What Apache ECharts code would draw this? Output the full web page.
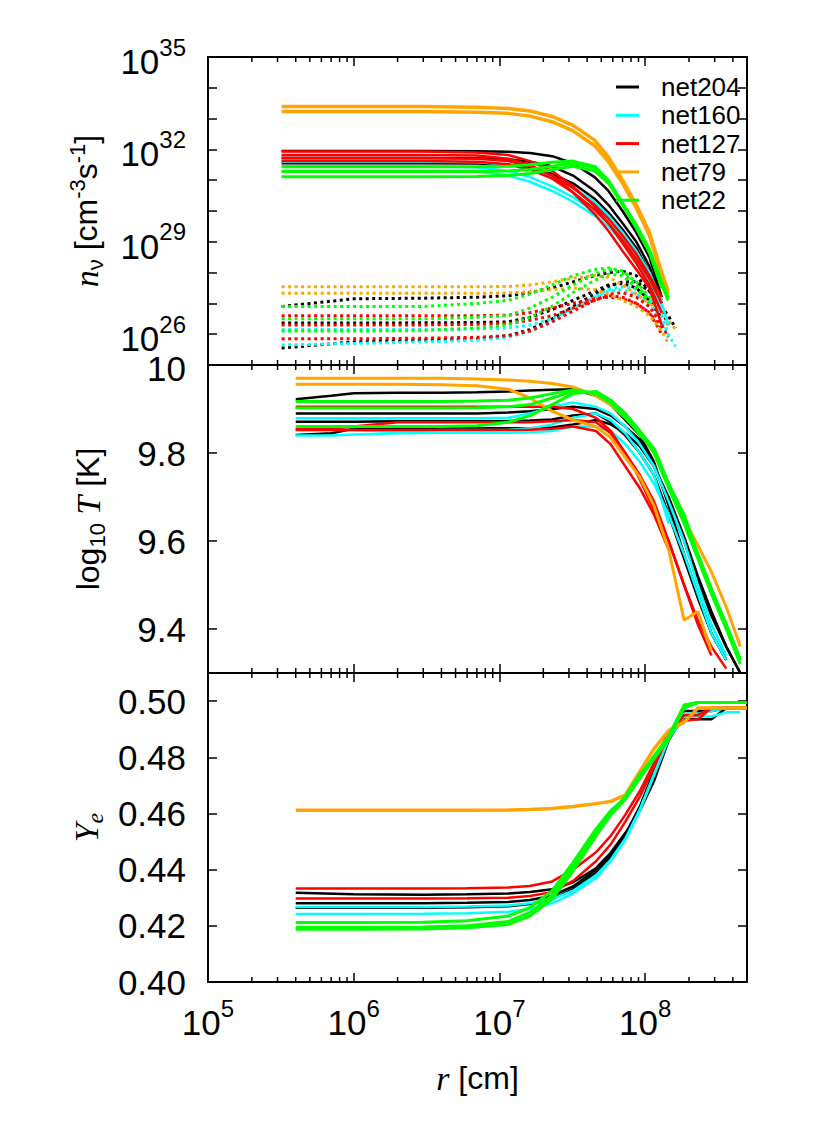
<!DOCTYPE html>
<html><head><meta charset="utf-8">
<script src="https://cdn.jsdelivr.net/npm/echarts@6/dist/echarts.min.js"></script>
<style>html,body{margin:0;padding:0;background:#fff}#c{width:830px;height:1142px}</style>
</head><body><div id="c"></div>
<script>
// ---------- radius grids (cm) ----------
const rTop = [3.2e5, 1e6, 3e6, 7e6, 1.15e7, 1.62e7, 2.3e7, 3.2e7, 4.5e7, 5.6e7, 7e7, 8.7e7, 1.07e8, 1.3e8, 1.44e8, 1.62e8];
const rT   = [4e5, 7e5, 1e6, 2e6, 4e6, 7e6, 1.15e7, 1.62e7, 2.3e7, 3.2e7, 4.6e7, 5.8e7, 7.3e7, 9.2e7, 1.15e8, 1.45e8, 1.85e8, 2.3e8, 2.85e8, 3.6e8, 4.5e8, 5e8];
const rYe  = [4e5, 1e6, 3e6, 6e6, 1.15e7, 1.62e7, 2.3e7, 3.2e7, 4.6e7, 5.8e7, 7.3e7, 9.2e7, 1.15e8, 1.45e8, 1.85e8, 2.3e8, 2.85e8, 3.6e8, 4.5e8, 5e8];

// ---------- top panel: log10 of n_nu [cm^-3 s^-1], solid curves ----------
const nuSolid_net204 = [
  [31.95,31.95,31.95,31.94,31.92,31.88,31.78,31.55,31.1,30.65,30.0,29.3,28.5,27.2,null,null],
  [31.72,31.72,31.72,31.71,31.68,31.6,31.45,31.15,30.65,30.2,29.6,29.0,28.2,27.1,null,null],
  [31.55,31.55,31.55,31.54,31.5,31.4,31.2,30.9,30.4,29.95,29.4,28.8,28.0,27.0,null,null]];
const nuSolid_net160 = [
  [31.6,31.6,31.6,31.58,31.5,31.35,31.1,30.75,30.3,29.85,29.3,28.7,28.0,27.1,null,null],
  [31.45,31.45,31.45,31.42,31.3,31.1,30.8,30.45,30.0,29.6,29.1,28.6,28.0,27.0,26.3,null],
  [31.3,31.3,31.3,31.28,31.15,30.95,30.65,30.3,29.85,29.5,29.0,28.4,27.7,26.8,null,null]];
const nuSolid_net127 = [
  [31.93,31.93,31.93,31.9,31.82,31.62,31.3,30.8,30.15,29.6,28.95,28.3,27.6,26.7,null,null],
  [31.82,31.82,31.82,31.8,31.7,31.5,31.15,30.6,29.9,29.35,28.7,28.1,27.5,26.3,null,null],
  [31.72,31.72,31.72,31.7,31.62,31.45,31.15,30.75,30.2,29.75,29.2,28.6,27.9,27.2,null,null],
  [31.62,31.62,31.62,31.6,31.52,31.35,31.05,30.6,30.05,29.6,29.05,28.45,27.8,27.0,null,null]];
const nuSolid_net79 = [
  [33.39,33.39,33.39,33.37,33.33,33.25,33.07,32.78,32.3,31.75,31.0,30.2,29.3,28.0,27.4,null],
  [33.23,33.23,33.23,33.21,33.17,33.08,32.9,32.6,32.12,31.6,30.9,30.1,29.2,27.9,27.3,null]];
const nuSolid_net22 = [
  [31.44,31.44,31.44,31.44,31.45,31.5,31.58,31.62,31.45,31.0,30.25,29.55,28.75,27.7,27.2,null],
  [31.28,31.28,31.28,31.28,31.3,31.35,31.45,31.55,31.4,30.95,30.25,29.5,28.7,27.6,27.1,null],
  [31.11,31.11,31.11,31.12,31.15,31.22,31.35,31.45,31.3,30.9,30.2,29.45,28.65,27.5,null,null]];

// ---------- top panel: log10 of n_nu, dotted curves ----------
const nuDot_net204 = [
  [26.9,27.15,27.17,27.2,27.25,27.35,27.5,27.7,27.9,28.0,28.05,27.9,27.4,26.8,26.3,null],
  [26.36,26.36,26.37,26.38,26.4,26.55,26.8,27.1,27.4,27.6,27.65,27.5,27.1,26.5,null,null],
  [25.55,25.75,25.8,25.85,25.95,26.15,26.5,26.9,27.3,27.55,27.7,27.7,27.4,26.9,26.6,26.2]];
const nuDot_net160 = [
  [26.15,26.15,26.15,26.17,26.2,26.3,26.5,26.85,27.2,27.4,27.45,27.3,27.0,26.4,25.9,null],
  [25.65,25.7,25.75,25.8,25.9,26.1,26.4,26.8,27.2,27.45,27.55,27.45,27.15,26.6,26.0,25.6]];
const nuDot_net127 = [
  [26.6,26.6,26.6,26.6,26.62,26.7,26.85,27.0,27.15,27.2,27.15,27.0,26.7,26.2,null,null],
  [26.3,26.3,26.3,26.32,26.35,26.45,26.6,26.85,27.1,27.25,27.2,27.0,26.7,26.0,null,null],
  [25.85,25.85,25.87,25.9,25.95,26.1,26.4,26.75,27.1,27.3,27.35,27.2,26.9,26.3,25.9,null]];
const nuDot_net79 = [
  [27.54,27.54,27.54,27.54,27.55,27.6,27.7,27.82,27.9,27.85,27.6,27.3,27.0,26.7,26.45,26.15],
  [27.33,27.33,27.33,27.33,27.34,27.38,27.45,27.5,27.45,27.3,27.1,26.9,26.6,26.1,25.7,null]];
const nuDot_net22 = [
  [26.9,26.9,26.9,27.0,27.1,27.3,27.6,27.9,28.1,28.15,28.05,27.7,27.2,26.8,null,null],
  [26.5,26.5,26.5,26.55,26.6,26.85,27.2,27.6,27.95,28.1,28.0,27.6,27.1,null,null,null],
  [26.1,26.1,26.12,26.2,26.3,26.55,26.9,27.35,27.75,27.95,27.9,27.5,27.0,null,null,null]];

// ---------- middle panel: log10 T [K] ----------
const T_net204 = [
  [9.922,9.93,9.936,9.937,9.937,9.938,9.94,9.942,9.944,9.945,9.93,9.91,9.875,9.84,9.78,9.68,9.57,9.48,9.39,9.33,null,null],
  [9.89,9.89,9.89,9.89,9.89,9.89,9.892,9.895,9.9,9.905,9.9,9.885,9.86,9.83,9.77,9.69,9.6,9.51,9.43,9.36,9.3,null],
  [9.871,9.871,9.871,9.872,9.872,9.872,9.873,9.874,9.876,9.885,9.89,9.87,9.84,9.8,9.75,9.66,9.56,9.47,9.39,9.33,null,null],
  [9.841,9.845,9.855,9.856,9.856,9.856,9.856,9.856,9.858,9.865,9.875,9.865,9.845,9.815,9.77,9.7,9.61,9.52,9.44,9.36,9.3,null]];
const T_net160 = [
  [9.879,9.879,9.879,9.879,9.879,9.879,9.88,9.89,9.905,9.915,9.905,9.89,9.86,9.82,9.77,9.69,9.6,9.5,9.41,9.34,null,null],
  [9.852,9.852,9.852,9.848,9.852,9.852,9.853,9.856,9.865,9.88,9.89,9.875,9.845,9.8,9.75,9.64,null,null,null,null,null,null],
  [9.84,9.84,9.842,9.845,9.846,9.846,9.846,9.847,9.85,9.86,9.86,9.85,9.82,9.78,9.73,9.66,9.57,9.48,9.39,9.33,null,null]];
const T_net127 = [
  [9.905,9.905,9.905,9.905,9.905,9.905,9.905,9.905,9.905,9.9,9.88,9.85,9.8,9.74,9.67,9.6,9.5,9.42,9.36,9.31,null,null],
  [9.855,9.855,9.86,9.87,9.87,9.87,9.87,9.87,9.872,9.875,9.87,9.845,9.8,9.75,9.69,9.6,9.5,9.41,9.34,null,null,null],
  [9.852,9.852,9.852,9.852,9.852,9.852,9.852,9.853,9.855,9.86,9.85,9.82,9.77,9.72,9.66,9.58,null,null,null,null,null,null]];
const T_net79 = [
  [9.97,9.97,9.97,9.97,9.97,9.968,9.966,9.963,9.958,9.95,9.93,9.91,9.88,9.845,9.8,9.73,9.65,9.59,9.53,9.45,9.36,null],
  [9.956,9.956,9.956,9.956,9.955,9.953,9.945,9.925,9.895,9.875,9.86,9.835,9.79,9.745,9.68,9.58,9.42,9.44,9.35,null,null,null]];
const T_net22 = [
  [9.917,9.917,9.917,9.917,9.917,9.918,9.92,9.925,9.935,9.943,9.935,9.915,9.885,9.84,9.81,9.73,9.66,9.57,9.49,9.41,9.33,null],
  [9.902,9.902,9.902,9.902,9.902,9.903,9.905,9.91,9.925,9.94,9.935,9.915,9.88,9.85,9.8,9.72,9.64,9.56,9.48,9.4,9.32,null],
  [9.86,9.86,9.86,9.86,9.86,9.862,9.87,9.885,9.91,9.935,9.94,9.92,9.89,9.85,9.81,9.73,9.65,9.57,9.49,9.41,9.33,null]];

// ---------- bottom panel: Y_e ----------
const Ye_net204 = [
  [0.4318,0.4312,0.4311,0.4312,0.4315,0.432,0.433,0.4355,0.4405,0.446,0.453,0.461,0.4715,0.486,0.495,0.4955,0.4975,0.4975,0.4975,0.4975],
  [0.428,0.428,0.428,0.4282,0.4285,0.4292,0.4307,0.434,0.44,0.4455,0.4525,0.4625,0.475,0.4875,0.4935,0.4935,0.4935,0.4975,0.4975,0.4975],
  [0.4264,0.4264,0.4264,0.4266,0.427,0.4278,0.4295,0.433,0.439,0.4445,0.452,0.462,0.4745,0.487,0.4965,0.4965,0.4965,0.4975,0.4975,null]];
const Ye_net160 = [
  [0.4267,0.4267,0.4267,0.4269,0.4272,0.428,0.4295,0.4325,0.438,0.4435,0.451,0.4615,0.474,0.487,0.4955,0.4955,0.4965,0.4975,0.4975,0.4975],
  [0.4242,0.4242,0.4243,0.4245,0.425,0.426,0.428,0.4315,0.437,0.443,0.4505,0.461,0.4735,0.4865,0.4945,0.4945,0.4945,0.496,0.496,null]];
const Ye_net127 = [
  [0.4333,0.4333,0.4333,0.4334,0.4336,0.4342,0.4358,0.44,0.4462,0.452,0.4595,0.468,0.478,0.489,0.493,0.4935,0.4975,0.4975,0.4975,0.4975],
  [0.4297,0.4297,0.4297,0.4298,0.43,0.4306,0.432,0.436,0.443,0.449,0.457,0.466,0.4765,0.488,0.495,0.495,0.4975,0.4975,0.4975,null]];
const Ye_net79 = [
  [0.4611,0.4611,0.4611,0.4611,0.4612,0.4614,0.4618,0.4625,0.4635,0.4643,0.4665,0.475,0.483,0.4895,0.4925,0.4975,0.4975,0.4975,0.4975,0.4975]];
const Ye_net22 = [
  [0.4212,0.4212,0.4213,0.4218,0.4235,0.4265,0.4325,0.4425,0.4545,0.461,0.4655,0.4735,0.4805,0.4875,0.4985,0.4995,0.4995,0.4995,0.4995,0.4995],
  [0.4188,0.4188,0.4189,0.4193,0.4205,0.4235,0.4295,0.4395,0.452,0.4595,0.465,0.4725,0.4795,0.4865,0.4975,0.4995,0.4995,0.4995,0.4995,0.4995],
  [0.4195,0.4195,0.4196,0.42,0.4215,0.4248,0.4308,0.441,0.453,0.46,0.466,0.474,0.4795,0.487,0.4985,0.4995,0.4995,0.4995,0.4995,0.4995]];

// ---------- axis ticks / labels ----------
const xMinorTicks = [2e5,3e5,4e5,5e5,6e5,7e5,8e5,9e5, 2e6,3e6,4e6,5e6,6e6,7e6,8e6,9e6, 2e7,3e7,4e7,5e7,6e7,7e7,8e7,9e7, 2e8,3e8,4e8];
const tTicks = [9.4, 9.6, 9.8, 10];
const yeTicks = [0.40, 0.42, 0.44, 0.46, 0.48, 0.50];

const NETS = ['net204','net160','net127','net79','net22'];
const COLORS = {net204:'#000000', net160:'#00ffff', net127:'#ff0000', net79:'#ffa500', net22:'#00ff00'};
const SANS = '"Liberation Sans", Arial, sans-serif';
const SERIF = '"Liberation Serif", "Times New Roman", serif';

const nuSolid = {net204:nuSolid_net204, net160:nuSolid_net160, net127:nuSolid_net127, net79:nuSolid_net79, net22:nuSolid_net22};
const nuDot = {net204:nuDot_net204, net160:nuDot_net160, net127:nuDot_net127, net79:nuDot_net79, net22:nuDot_net22};
const Tdat = {net204:T_net204, net160:T_net160, net127:T_net127, net79:T_net79, net22:T_net22};
const Yedat = {net204:Ye_net204, net160:Ye_net160, net127:Ye_net127, net79:Ye_net79, net22:Ye_net22};

function lineSeries(net, rs, ys, gi, o) {
  const data = [];
  rs.forEach((r, i) => { if (ys[i] != null) data.push([r, o.exp ? Math.pow(10, ys[i]) : ys[i]]); });
  return {
    type: 'line', name: net, xAxisIndex: 2*gi, yAxisIndex: 2*gi, data,
    symbol: 'none', showSymbol: false, silent: true, animation: false, smooth: false,
    lineStyle: {color: COLORS[net], width: o.width, type: o.type || 'solid', cap: 'butt'},
    itemStyle: {color: COLORS[net]}, emphasis: {disabled: true}
  };
}
const widthOf = (net, panel) => net === 'net79' ? (panel === 1 ? 3 : 3.5) : (net === 'net22' ? 3 : 2.5);

const series = [];
NETS.forEach(n => nuDot[n].forEach(a => series.push(lineSeries(n, rTop, a, 0, {exp: true, width: 3, type: [3, 3.5]}))));
NETS.forEach(n => nuSolid[n].forEach(a => series.push(lineSeries(n, rTop, a, 0, {exp: true, width: widthOf(n, 0)}))));
NETS.forEach(n => Tdat[n].forEach(a => series.push(lineSeries(n, rT, a, 1, {width: widthOf(n, 1)}))));
NETS.forEach(n => Yedat[n].forEach(a => series.push(lineSeries(n, rYe, a, 2, {width: widthOf(n, 2)}))));

// minor x ticks (2..9 x 10^n) on bottom and top of every panel
const yRef = [1e30, 9.6, 0.45];
[0,1,2].forEach(gi => series.push({
  type: 'custom', name: '_minor', xAxisIndex: 2*gi, yAxisIndex: 2*gi, silent: true, animation: false, z: 10, clip: false,
  data: xMinorTicks.map(v => [v, yRef[gi]]),
  renderItem: (params, api) => {
    const cs = params.coordSys;
    const x = api.coord([api.value(0), api.value(1)])[0];
    const yb = cs.y + cs.height, yt = cs.y;
    const st = {stroke: '#000', lineWidth: 1.5};
    return {type: 'group', children: [
      {type: 'line', shape: {x1: x, y1: yb, x2: x, y2: yb - 5}, style: st},
      {type: 'line', shape: {x1: x, y1: yt, x2: x, y2: yt + 5}, style: st}
    ]};
  }
}));

const grids = [
  {left: 208, right: 83, top: 57, height: 308},
  {left: 208, right: 83, top: 365, height: 308},
  {left: 208, right: 83, top: 673, height: 309}
];

const lab = {
  b: {fontSize: 35, fontFamily: SANS, color: '#000', lineHeight: 44, verticalAlign: 'bottom'},
  s: {fontSize: 24, fontFamily: SANS, color: '#000', lineHeight: 24, verticalAlign: 'top'}
};
const axLine = {show: true, onZero: false, lineStyle: {color: '#000', width: 2}};
const axTick = {show: true, inside: true, length: 9, lineStyle: {color: '#000', width: 1.5}};

function isDecade(v) { const e = Math.log10(v); return Math.abs(e - Math.round(e)) < 1e-6; }

const xAxis = [];
[0,1,2].forEach(gi => {
  const base = {type: 'log', logBase: 10, gridIndex: gi, min: 1e5, max: 5e8, interval: 1,
    axisLine: axLine, axisTick: axTick, splitLine: {show: false}, minorTick: {show: false}};
  xAxis.push(Object.assign({}, base, {
    position: 'bottom',
    axisLabel: gi === 2 ? {show: true, margin: 14, rich: lab,
      formatter: v => isDecade(v) ? '{b|10}{s|' + Math.round(Math.log10(v)) + '}' : ''} : {show: false},
    name: gi === 2 ? '{i|r}{t| [cm]}' : '', nameLocation: 'middle', nameGap: 76,
    nameTextStyle: {rich: {
      i: {fontSize: 34, fontFamily: SERIF, fontStyle: 'italic', color: '#000', lineHeight: 40},
      t: {fontSize: 32, fontFamily: SANS, color: '#000', lineHeight: 40}}}
  }));
  xAxis.push(Object.assign({}, base, {position: 'top', axisLabel: {show: false}}));
});

const nameRich = {
  t: {fontSize: 32, fontFamily: SANS, color: '#000', lineHeight: 40},
  i: {fontSize: 34, fontFamily: SERIF, fontStyle: 'italic', color: '#000', lineHeight: 40},
  sub: {fontSize: 22, fontFamily: SANS, color: '#000', lineHeight: 22, verticalAlign: 'bottom'},
  isub: {fontSize: 24, fontFamily: SERIF, fontStyle: 'italic', color: '#000', lineHeight: 22, verticalAlign: 'bottom'},
  sup: {fontSize: 22, fontFamily: SANS, color: '#000', lineHeight: 22, verticalAlign: 'top'}
};

const yAxis = [];
// top: n_nu (log)
const yTopBase = {type: 'log', logBase: 10, gridIndex: 0, min: 1e25, max: 1e35, interval: 1,
  axisLine: axLine, axisTick: axTick, splitLine: {show: false}};
yAxis.push(Object.assign({}, yTopBase, {position: 'left',
  axisLabel: {show: true, margin: 22, rich: lab, showMaxLabel: true,
    formatter: v => { const e = Math.round(Math.log10(v)); return (e >= 26 && (e - 26) % 3 === 0) ? '{b|10}{s|' + e + '}' : ''; }},
  name: '{i|n}{sub|ν}{t| [cm}{sup|-3}{t|s}{sup|-1}{t|]}', nameLocation: 'middle', nameRotate: 90, nameGap: 102,
  nameTextStyle: {rich: nameRich}}));
yAxis.push(Object.assign({}, yTopBase, {position: 'right', axisLabel: {show: false}}));
// middle: log10 T
const yMidBase = {type: 'value', gridIndex: 1, min: 9.3, max: 10,
  axisLine: axLine, axisTick: Object.assign({}, axTick, {customValues: tTicks}), splitLine: {show: false}};
yAxis.push(Object.assign({}, yMidBase, {position: 'left',
  axisLabel: {show: true, margin: 22, fontSize: 35, fontFamily: SANS, color: '#000', customValues: tTicks,
    formatter: v => Math.abs(v - 10) < 1e-9 ? '{d|10}' : v.toFixed(1),
    rich: {d: {fontSize: 35, fontFamily: SANS, color: '#000', padding: [6, 0, 0, 0]}}},
  name: '{t|log}{sub|10}{i| T}{t| [K]}', nameLocation: 'middle', nameRotate: 90, nameGap: 100,
  nameTextStyle: {rich: nameRich}}));
yAxis.push(Object.assign({}, yMidBase, {position: 'right', axisLabel: {show: false}}));
// bottom: Ye
const yBotBase = {type: 'value', gridIndex: 2, min: 0.40, max: 0.51,
  axisLine: axLine, axisTick: Object.assign({}, axTick, {customValues: yeTicks}), splitLine: {show: false}};
yAxis.push(Object.assign({}, yBotBase, {position: 'left',
  axisLabel: {show: true, margin: 22, fontSize: 35, fontFamily: SANS, color: '#000', customValues: yeTicks,
    formatter: v => v.toFixed(2)},
  name: '{i|Y}{isub|e}', nameLocation: 'middle', nameRotate: 90, nameGap: 100,
  nameTextStyle: {rich: nameRich}}));
yAxis.push(Object.assign({}, yBotBase, {position: 'right', axisLabel: {show: false}}));

const chart = echarts.init(document.getElementById('c'), null, {renderer: 'svg'});
chart.setOption({
  backgroundColor: '#ffffff',
  animation: false,
  grid: grids,
  xAxis, yAxis,
  legend: {
    orient: 'vertical', left: 611, top: 68, itemWidth: 23, itemHeight: 3, itemGap: 0.3,
    icon: 'rect', selectedMode: false,
    data: NETS.map(n => ({name: n, itemStyle: {color: COLORS[n]}})),
    formatter: n => '{g|}' + n,
    textStyle: {fontSize: 26, fontFamily: SANS, color: '#000', lineHeight: 28, rich: {g: {width: 17}}}
  },
  series
});
</script></body></html>
